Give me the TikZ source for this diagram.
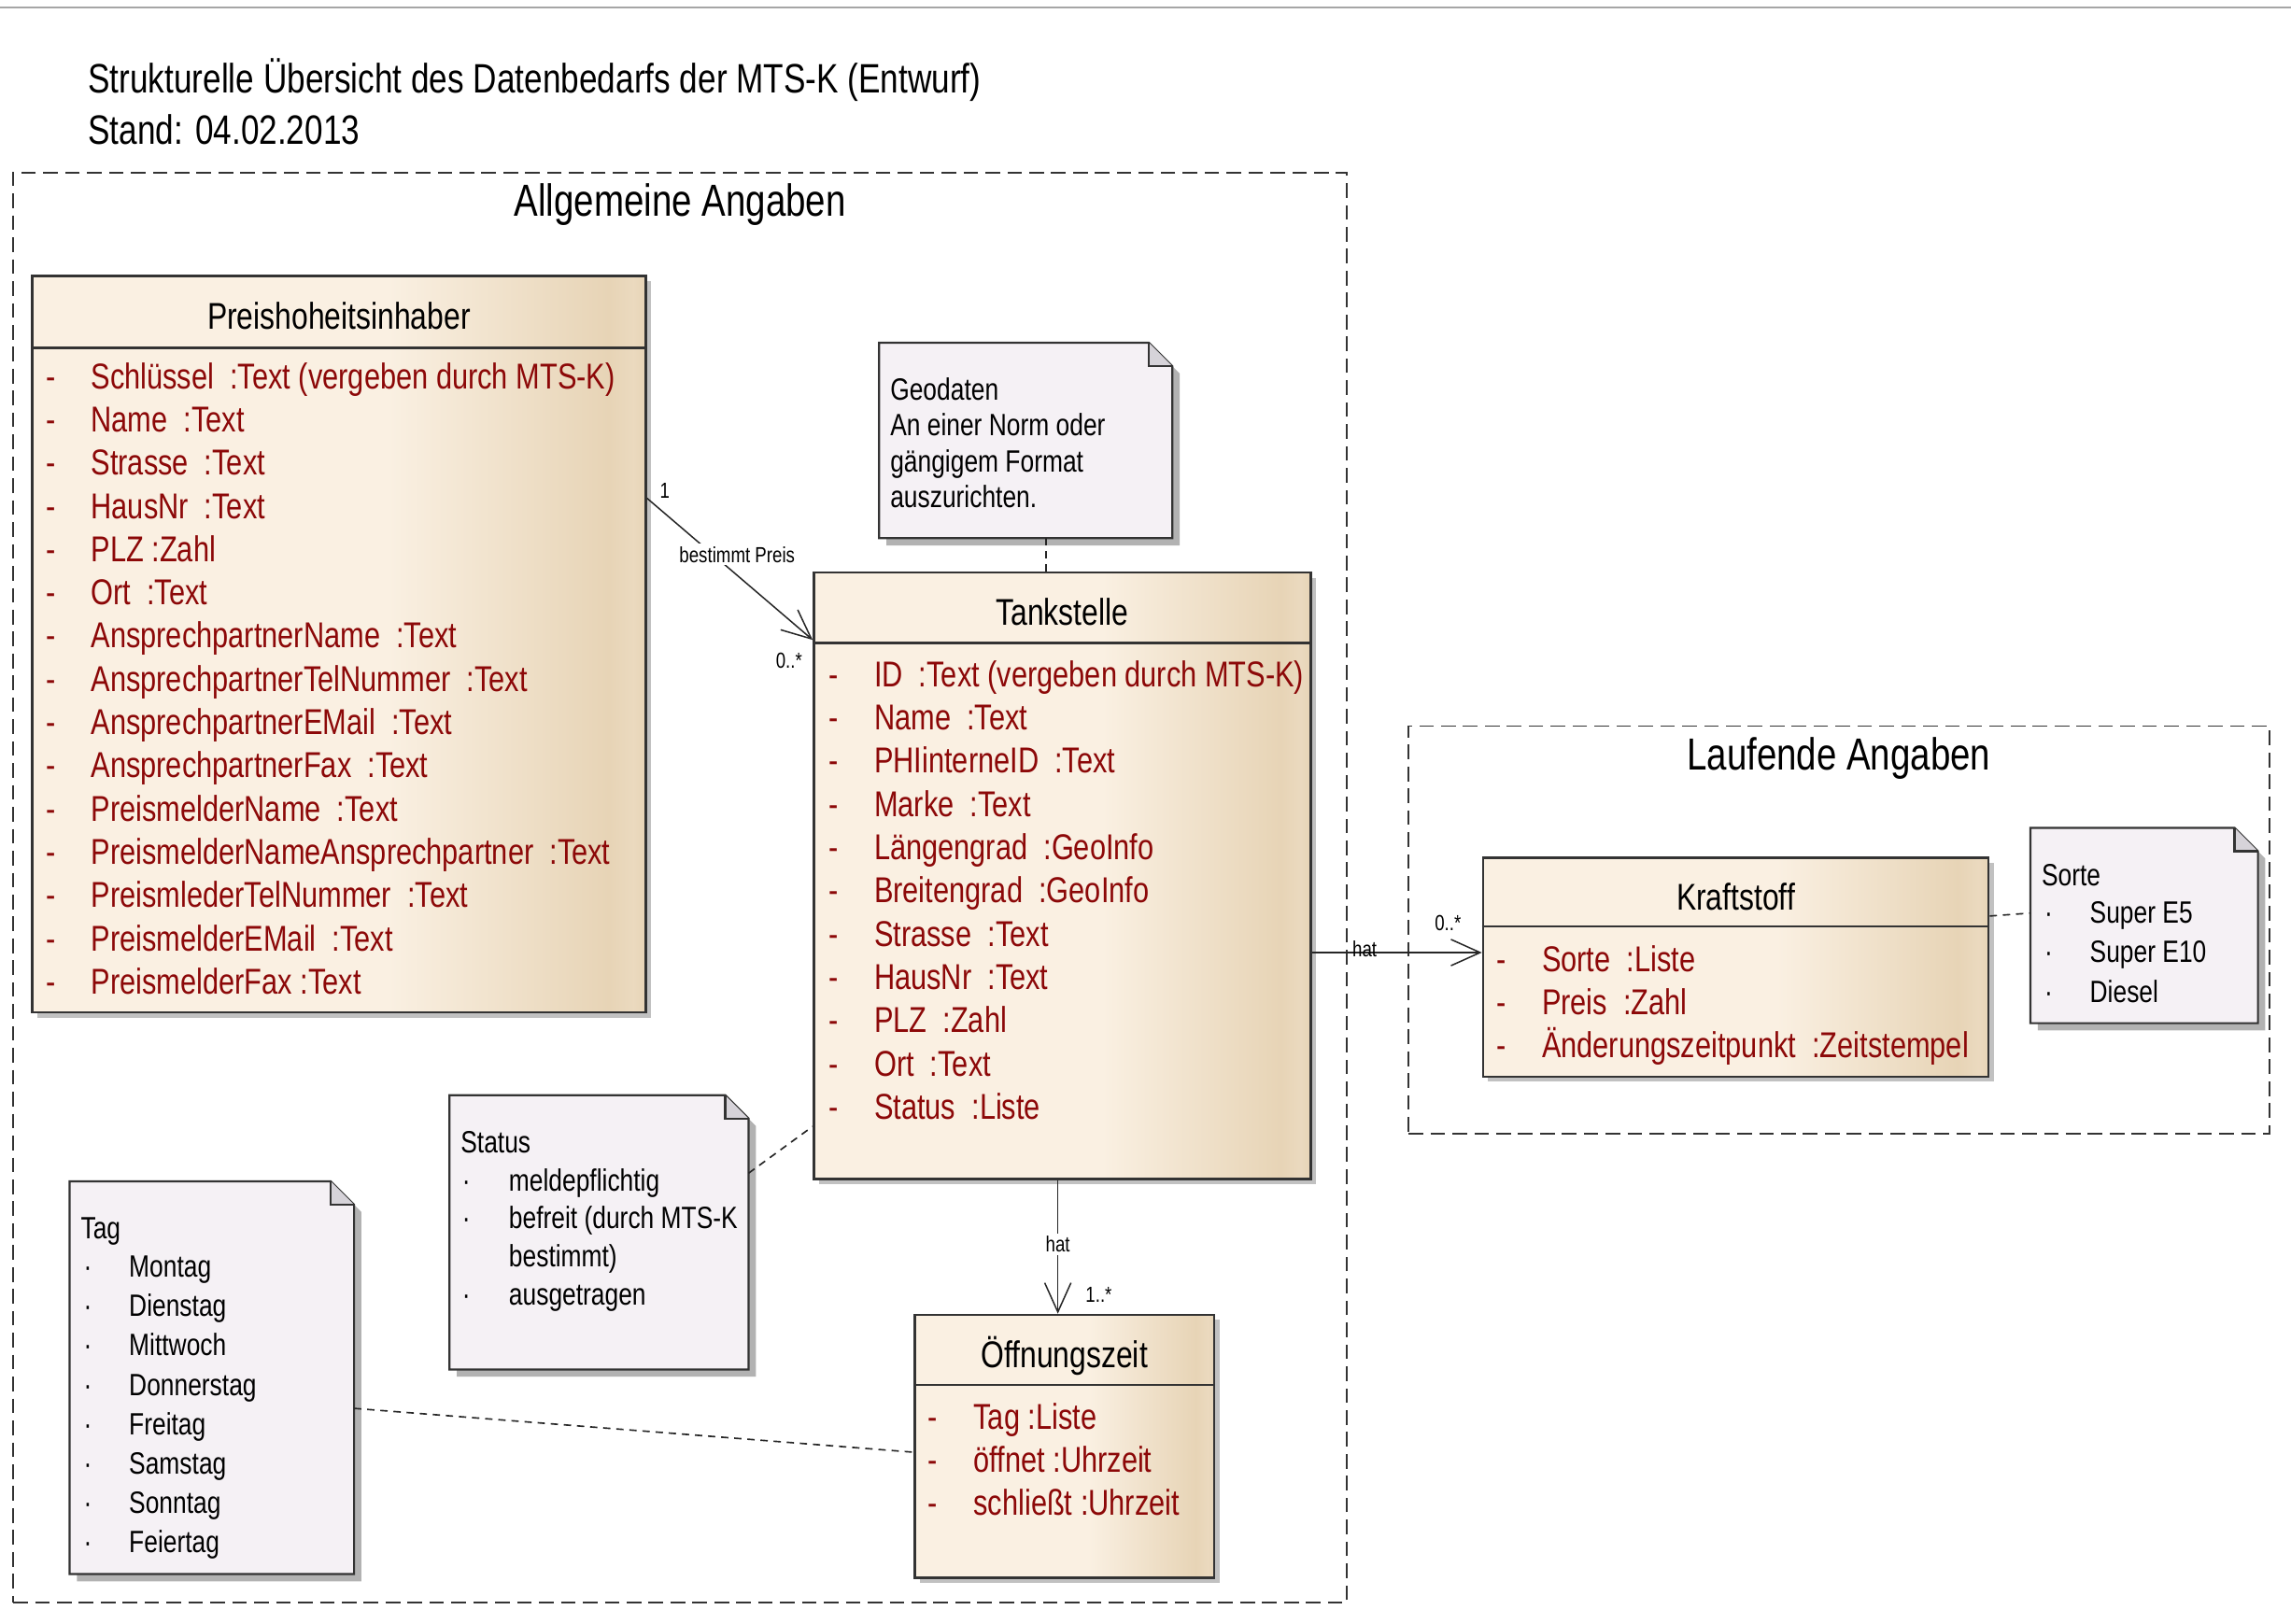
\documentclass[tikz,border=0pt]{standalone}
\usepackage{fontspec}
\setmainfont{Liberation Sans}[FakeStretch=0.8]
\usetikzlibrary{positioning,fit,calc,arrows.meta,shadows,backgrounds}
\definecolor{attrred}{RGB}{140,8,8}
\definecolor{classlight}{RGB}{250,240,226}
\definecolor{classdark}{RGB}{231,212,182}
\definecolor{notefill}{RGB}{245,241,245}
\definecolor{foldfill}{RGB}{214,211,217}
\pgfdeclarehorizontalshading{classshade}{100bp}{color(0bp)=(classlight); color(54bp)=(classlight); color(72bp)=(classdark); color(74bp)=(classdark!80!classlight); color(75bp)=(classdark); color(100bp)=(classdark)}

\begin{document}
\begin{tikzpicture}[x=0.02cm, y=-0.02cm]
	\tikzstyle{umlclass}=[draw=black!80, line width=0.9pt, shading=classshade, inner sep=0pt, drop shadow={shadow xshift=0.07cm, shadow yshift=-0.07cm, fill=black!35, opacity=0.7}]
	\tikzstyle{group}=[draw=black!80, line width=0.7pt, dash pattern=on 0.2cm off 0.1cm, inner sep=0pt]
	\tikzstyle{note}=[inner sep=0pt]
	\tikzstyle{title}=[inner sep=0pt, anchor=west, font=\fontsize{16}{19}\selectfont]
	\tikzstyle{grouptitle}=[inner sep=0pt, font=\fontsize{17.5}{20}\selectfont]
	\tikzstyle{classname}=[inner sep=0pt, font=\fontsize{14.5}{17}\selectfont]
	\tikzstyle{attr}=[inner sep=0pt, anchor=base west, text=attrred, font=\fontsize{14}{16}\selectfont]
	\tikzstyle{notetext}=[inner sep=0pt, anchor=base west, font=\fontsize{12}{14}\selectfont]
	\tikzstyle{lbl}=[inner sep=1pt, font=\fontsize{8.5}{10}\selectfont]
	\tikzstyle{assoc}=[draw=black!85, line width=0.55pt, -{Straight Barb[length=0.4cm,width=0.36cm]}]
	\tikzstyle{anchorline}=[draw=black!85, line width=0.6pt, dash pattern=on 0.1cm off 0.08cm]
	\useasboundingbox (0,0) rectangle (1568,1111);

	% page edge and title
	\draw[black!35, line width=0.6pt] (0,5) -- (1568,5);
	\node[title] (title) at (60,55) {Strukturelle Übersicht des Datenbedarfs der MTS-K (Entwurf)};
	\node[title] (stand) at (60,89) {Stand: 04.02.2013};

	% packages
	\node[group, fit={(9,118) (922,1097)}] (allg) {};
	\node[grouptitle] (allg-title) at (allg.north |- 0,140) {Allgemeine Angaben};
	\node[group, fit={(964,497) (1553,776)}] (lauf) {};
	\node[grouptitle] (lauf-title) at (lauf.north |- 0,519) {Laufende Angaben};

	% notes
	\node[note, fit={(602,235) (802,368)}] (geo) {};
	\node[note, fit={(1390,567) (1545,700)}] (sorte) {};
	\node[note, fit={(308,750) (512,937)}] (status) {};
	\node[note, fit={(48,809) (242,1077)}] (tag) {};
	\begin{scope}[on background layer]
	\foreach \n in {geo,sorte,status,tag} {
		\fill[black!30] ($(\n.north west)+(5,5)$) -- ($(\n.north east)+(-11,5)$) -- ($(\n.north east)+(5,21)$) -- ($(\n.south east)+(5,5)$) -- ($(\n.south west)+(5,5)$) -- cycle;
		\draw[fill=notefill, line width=0.8pt, draw=black!80] (\n.north west) -- ($(\n.north east)+(-16,0)$) -- ($(\n.north east)+(0,16)$) -- (\n.south east) -- (\n.south west) -- cycle;
		\draw[fill=foldfill, line width=0.8pt, draw=black!80] ($(\n.north east)+(-16,0)$) -- ($(\n.north east)+(-16,16)$) -- ($(\n.north east)+(0,16)$);
	}
	\end{scope}
	\foreach \t [count=\i] in {Geodaten, An einer Norm oder, gängigem Format, auszurichten.}
		\node[notetext] at (609,{274+24.5*(\i-1)}) {\t};
	\node[notetext] at (1397,606) {Sorte};
	\foreach \t [count=\i] in {Super E5, Super E10, Diesel} {
		\node[notetext] at (1399,{632+27*(\i-1)}) {·};
		\node[notetext] at (1430,{632+27*(\i-1)}) {\t};
	}
	\node[notetext] at (315,789) {Status};
	\foreach \t/\y in {meldepflichtig/815, befreit (durch MTS-K/841, ausgetragen/893} {
		\node[notetext] at (316,\y) {·};
		\node[notetext] at (348,\y) {\t};
	}
	\node[notetext] at (348,867) {bestimmt)};
	\node[notetext] at (55,848) {Tag};
	\foreach \t [count=\i] in {Montag, Dienstag, Mittwoch, Donnerstag, Freitag, Samstag, Sonntag, Feiertag} {
		\node[notetext] at (57,{874+27*(\i-1)}) {·};
		\node[notetext] at (88,{874+27*(\i-1)}) {\t};
	}

	% classes
	\node[umlclass, fit={(22,189) (442,693)}] (ph) {};
	\node[classname] (ph-name) at (ph.north |- 0,216) {Preishoheitsinhaber};
	\draw[line width=0.9pt, black!80] (ph.west |- 0,238) -- (ph.east |- 0,238);
	\foreach \a [count=\i] in {Schlüssel\ \ :Text (vergeben durch MTS-K), Name\ \ :Text, Strasse\ \ :Text, HausNr\ \ :Text, PLZ :Zahl, Ort\ \ :Text, AnsprechpartnerName\ \ :Text, AnsprechpartnerTelNummer\ \ :Text, AnsprechpartnerEMail\ \ :Text, AnsprechpartnerFax\ \ :Text, PreismelderName\ \ :Text, PreismelderNameAnsprechpartner\ \ :Text, PreismlederTelNummer\ \ :Text, PreismelderEMail\ \ :Text, PreismelderFax\ :Text} {
		\node[attr] at (31,{266+29.6*(\i-1)}) {-};
		\node[attr] at (62,{266+29.6*(\i-1)}) {\a};
	}

	\node[umlclass, fit={(557,392) (897,807)}] (ts) {};
	\node[classname] (ts-name) at (ts.north |- 0,419) {Tankstelle};
	\draw[line width=0.9pt, black!80] (ts.west |- 0,440) -- (ts.east |- 0,440);
	\foreach \a [count=\i] in {ID\ \ :Text (vergeben durch MTS-K), Name\ \ :Text, PHIinterneID\ \ :Text, Marke\ \ :Text, Längengrad\ \ :GeoInfo, Breitengrad\ \ :GeoInfo, Strasse\ \ :Text, HausNr\ \ :Text, PLZ\ \ :Zahl, Ort\ \ :Text, Status\ \ :Liste} {
		\node[attr] at (567,{470+29.6*(\i-1)}) {-};
		\node[attr] at (598,{470+29.6*(\i-1)}) {\a};
	}

	\node[umlclass, fit={(1015,587) (1361,737)}] (kr) {};
	\node[classname] (kr-name) at (kr.north |- 0,614) {Kraftstoff};
	\draw[line width=0.9pt, black!80] (kr.west |- 0,634) -- (kr.east |- 0,634);
	\foreach \a [count=\i] in {Sorte\ \ :Liste, Preis\ \ :Zahl, Änderungszeitpunkt\ \ :Zeitstempel} {
		\node[attr] at (1024,{665+29.6*(\i-1)}) {-};
		\node[attr] at (1055,{665+29.6*(\i-1)}) {\a};
	}

	\node[umlclass, fit={(626,900) (831,1080)}] (oz) {};
	\node[classname] (oz-name) at (oz.north |- 0,928) {Öffnungszeit};
	\draw[line width=0.9pt, black!80] (oz.west |- 0,948) -- (oz.east |- 0,948);
	\foreach \a [count=\i] in {Tag :Liste, öffnet :Uhrzeit, schließt :Uhrzeit} {
		\node[attr] at (635,{978+29.6*(\i-1)}) {-};
		\node[attr] at (666,{978+29.6*(\i-1)}) {\a};
	}

	% associations
	\draw[assoc] (ph.east |- 0,341) -- node[lbl, fill=white, pos=0.5, xshift=0.1cm, yshift=0.2cm] {bestimmt Preis} (ts.west |- 0,438);
	\node[lbl] at (455,336) {1};
	\node[lbl] at (540,452) {0..*};
	\draw[assoc] (ts.east |- 0,652) -- (kr.west |- 0,652);
	\node[lbl, anchor=south] at (934,657) {hat};
	\node[lbl] at (991,632) {0..*};
	\draw[assoc] (ts.south -| 724,0) -- node[lbl, fill=white, pos=0.48] {hat} (oz.north -| 724,0);
	\node[lbl] at (752,886) {1..*};

	% note links
	\draw[anchorline] (geo.south -| 716,0) -- (ts.north -| 716,0);
	\draw[anchorline] (kr.east |- 0,627) -- (sorte.west |- 0,625);
	\draw[anchorline] (status.east |- 0,803) -- (ts.west |- 0,771);
	\draw[anchorline] (tag.east |- 0,964) -- (oz.west |- 0,994);
\end{tikzpicture}
\end{document}
